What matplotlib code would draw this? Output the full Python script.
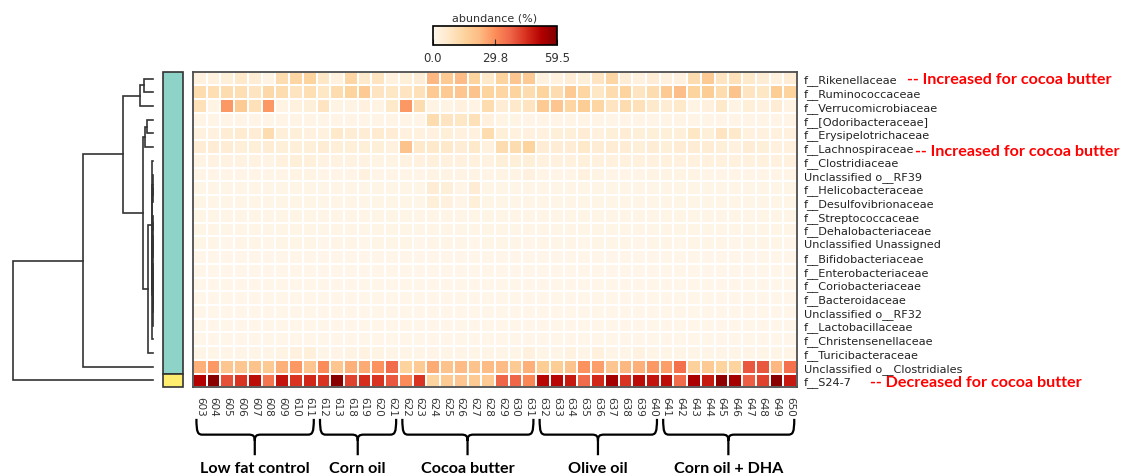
import numpy as np
import matplotlib
matplotlib.use('Agg')
import matplotlib.pyplot as plt
from matplotlib.path import Path
from matplotlib.patches import PathPatch, Rectangle

W, H = 1124, 477

# ---------------- data ----------------
families = ['f__Rikenellaceae', 'f__Ruminococcaceae', 'f__Verrucomicrobiaceae',
            'f__[Odoribacteraceae]', 'f__Erysipelotrichaceae', 'f__Lachnospiraceae',
            'f__Clostridiaceae', 'Unclassified o__RF39', 'f__Helicobacteraceae',
            'f__Desulfovibrionaceae', 'f__Streptococcaceae', 'f__Dehalobacteriaceae',
            'Unclassified Unassigned', 'f__Bifidobacteriaceae', 'f__Enterobacteriaceae',
            'f__Coriobacteriaceae', 'f__Bacteroidaceae', 'Unclassified o__RF32',
            'f__Lactobacillaceae', 'f__Christensenellaceae', 'f__Turicibacteraceae',
            'Unclassified o__Clostridiales', 'f__S24-7']

samples = ['603', '604', '605', '606', '607', '608', '609', '610', '611',
           '612', '613', '618', '619', '620', '621',
           '622', '623', '624', '625', '626', '627', '628', '629', '630', '631',
           '632', '633', '634', '635', '636', '637', '638', '639', '640',
           '641', '642', '643', '644', '645', '646', '647', '648', '649', '650']

groups = ['Low fat control', 'Corn oil', 'Cocoa butter', 'Olive oil', 'Corn oil + DHA']
group_sizes = [9, 6, 10, 9, 10]

row_cluster = [0] * 22 + [1]
row_cluster_colors = ['#8dd3c7', '#ffed6f']

rikenellaceae = [3, 3, 4, 7, 5, 2, 12, 14, 15, 8, 3,
                 14, 7, 9, 3, 4, 5, 23, 18, 22, 15, 7,
                 15, 19, 18, 3, 3, 5, 4, 9, 14, 5, 3,
                 5, 3, 3, 12, 18, 9, 10, 7, 5, 3, 5]
ruminococcaceae = [12, 11, 12, 11, 9, 13, 12, 9, 11, 8, 12,
                   15, 18, 9, 8, 9, 10, 18, 18, 19, 20, 15,
                   14, 15, 12, 15, 12, 18, 14, 8, 12, 15, 9,
                   12, 18, 21, 15, 17, 12, 20, 9, 8, 17, 15]
verrucomicrobiaceae = [10, 2, 28, 18, 10, 28, 2, 3, 4, 9, 2,
                       2, 3, 2, 7, 28, 12, 2, 2, 3, 2, 12,
                       5, 7, 9, 18, 19, 14, 17, 14, 9, 12, 10,
                       7, 5, 7, 2, 3, 7, 2, 4, 3, 5, 2]
odoribacteraceae = [1.5, 1.5, 1.5, 1.5, 1.5, 1.5, 1.5, 1.5, 1.5, 1.5, 1.5,
                    1.5, 1.5, 1.5, 1.5, 1.5, 1.5, 12, 9, 8, 10, 3,
                    2, 2, 1.5, 1.5, 1.5, 1.5, 1.5, 1.5, 1.5, 1.5, 1.5,
                    1.5, 1.5, 1.5, 1.5, 1.5, 1.5, 1.5, 1.5, 1.5, 1.5, 1.5]
erysipelotrichaceae = [3, 3, 5, 6, 5, 12, 4, 4, 3, 3, 7,
                       5, 5, 6, 5, 3, 3, 3, 4, 3, 3, 12,
                       4, 3, 3, 3, 4, 4, 5, 3, 4, 5, 4,
                       4, 4, 4, 8, 4, 9, 7, 3, 3, 3, 3]
lachnospiraceae = [5, 5, 5, 4, 4, 5, 4, 4, 4, 5, 4,
                   4, 4, 4, 3, 20, 7, 7, 7, 5, 7, 3,
                   12, 12, 15, 5, 5, 5, 7, 5, 5, 5, 4,
                   5, 4, 5, 5, 5, 4, 3, 5, 4, 3, 3]
clostridiaceae = [2, 2.5, 2.5, 2.5, 2.5, 2, 3, 4, 3.5, 2.5, 2.5,
                  2.5, 2.5, 2, 2, 2.5, 3, 3.5, 3, 3, 3, 2.5,
                  4, 4, 4, 3, 3, 3, 3.5, 3, 3, 3, 3,
                  3, 3, 3, 3, 3, 3, 3, 3, 3, 3, 3]
rf39 = [1.5, 1.5, 1.5, 1.5, 1.5, 1.5, 1.5, 2, 2, 1.5, 1.5,
        1.5, 3, 1.5, 1.5, 1.5, 1.5, 2, 2, 2, 2, 1.5,
        2, 2, 3, 1.5, 1.5, 1.5, 3, 2, 1.5, 1.5, 1.5,
        2, 2, 2, 2, 1.5, 1.5, 1.5, 1.5, 1.5, 1.5, 1.5]
helicobacteraceae = [1, 1, 1, 1, 1, 1, 1, 1, 1, 1, 1,
                     1, 1, 1, 1, 1, 1, 5, 4, 1.5, 5, 1,
                     1, 1, 1, 1, 1, 1, 1, 1, 1, 1, 1,
                     1, 1, 1, 1, 1, 1, 1, 1, 1, 1, 1]
desulfovibrionaceae = [1, 1, 1, 1, 1, 1, 1, 1, 1, 1, 1,
                       1, 1, 1, 1, 1, 1, 4, 3, 1.5, 4, 1,
                       1, 1, 1, 1, 1, 1, 1, 1, 1, 1, 1,
                       1, 1, 1, 1, 1, 1, 1, 1, 1, 1, 1]
streptococcaceae = [1.0, 1.2, 1.0, 1.0, 1.2, 1.0, 1.0, 1.2, 1.0, 1.0, 1.0,
                    1.0, 1.0, 1.2, 1.0, 1.0, 1.0, 1.0, 1.2, 1.0, 1.0, 1.0,
                    1.0, 1.2, 1.0, 1.0, 1.0, 1.0, 1.2, 1.0, 1.0, 1.0, 1.0,
                    1.2, 1.0, 1.0, 1.0, 1.2, 1.0, 1.0, 1.0, 1.2, 1.0, 1.0]
dehalobacteriaceae = [1.2, 1.0, 1.0, 1.2, 1.0, 1.0, 1.2, 1.0, 1.0, 1.2, 1.0,
                      1.0, 1.2, 1.0, 1.0, 1.0, 1.2, 1.0, 1.0, 1.2, 1.0, 1.0,
                      1.2, 1.0, 1.0, 1.0, 1.2, 1.0, 1.0, 1.0, 1.2, 1.0, 1.0,
                      1.0, 1.2, 1.0, 1.0, 1.0, 1.0, 1.2, 1.0, 1.0, 1.0, 1.2]
unassigned = [1.0, 1.0, 0.9, 1.0, 1.0, 0.9, 1.0, 1.0, 1.0, 0.9, 1.0,
              1.0, 0.9, 1.0, 1.0, 1.0, 0.9, 1.0, 1.0, 1.0, 0.9, 1.0,
              1.0, 1.0, 0.9, 1.0, 1.0, 1.0, 0.9, 1.0, 1.0, 1.0, 0.9,
              1.0, 1.0, 0.9, 1.0, 1.0, 1.0, 0.9, 1.0, 1.0, 1.0, 0.9]
bifidobacteriaceae = [0.8, 0.8, 0.9, 0.8, 0.8, 0.8, 0.9, 0.8, 0.8, 0.8, 0.8,
                      0.9, 0.8, 0.8, 0.8, 0.8, 0.8, 0.9, 0.8, 0.8, 0.8, 0.8,
                      0.8, 0.9, 0.8, 0.8, 0.8, 0.8, 0.8, 0.9, 0.8, 0.8, 0.8,
                      0.8, 0.8, 0.9, 0.8, 0.8, 0.8, 0.8, 0.9, 0.8, 0.8, 0.8]
enterobacteriaceae = [0.8, 0.9, 0.8, 0.8, 0.8, 0.9, 0.8, 0.8, 0.8, 0.8, 0.9,
                      0.8, 0.8, 0.8, 0.9, 0.8, 0.8, 0.8, 0.8, 0.9, 0.8, 0.8,
                      0.8, 0.8, 0.8, 0.9, 0.8, 0.8, 0.8, 0.8, 0.8, 0.9, 0.8,
                      0.8, 0.9, 0.8, 0.8, 0.8, 0.8, 0.9, 0.8, 0.8, 0.8, 0.8]
coriobacteriaceae = [0.8, 0.8, 0.8, 0.9, 0.8, 0.8, 0.8, 0.8, 0.9, 0.8, 0.8,
                     0.8, 0.8, 0.9, 0.8, 0.8, 0.8, 0.8, 0.9, 0.8, 0.8, 0.8,
                     0.9, 0.8, 0.8, 0.8, 0.8, 0.8, 0.9, 0.8, 0.8, 0.8, 0.8,
                     0.8, 0.8, 0.8, 0.9, 0.8, 0.8, 0.8, 0.8, 0.8, 0.9, 0.8]
bacteroidaceae = [0.8, 0.8, 0.8, 0.8, 0.9, 0.8, 0.8, 0.8, 0.8, 0.8, 0.9,
                  0.8, 0.8, 0.8, 0.8, 0.9, 0.8, 0.8, 0.8, 0.8, 0.9, 0.8,
                  0.8, 0.8, 0.8, 0.8, 0.9, 0.8, 0.8, 0.8, 0.8, 0.9, 0.8,
                  0.8, 0.8, 0.8, 0.8, 0.9, 0.8, 0.8, 0.8, 0.8, 0.8, 0.9]
rf32 = [0.8, 0.8, 0.9, 0.8, 0.8, 0.8, 0.8, 0.9, 0.8, 0.8, 0.8,
        0.8, 0.9, 0.8, 0.8, 0.8, 0.8, 0.9, 0.8, 0.8, 0.8, 0.8,
        0.8, 0.8, 0.9, 0.8, 0.8, 0.8, 0.8, 0.9, 0.8, 0.8, 0.8,
        0.9, 0.8, 0.8, 0.8, 0.8, 0.9, 0.8, 0.8, 0.8, 0.8, 0.8]
lactobacillaceae = [0.9, 0.8, 0.8, 0.8, 0.8, 0.9, 0.8, 0.8, 0.8, 0.8, 0.8,
                    0.9, 0.8, 0.8, 0.8, 0.8, 0.9, 0.8, 0.8, 0.8, 0.8, 0.9,
                    0.8, 0.8, 0.8, 0.8, 0.8, 0.9, 0.8, 0.8, 0.8, 0.8, 0.9,
                    0.8, 0.8, 0.8, 0.8, 0.9, 0.8, 0.8, 0.8, 0.9, 0.8, 0.8]
christensenellaceae = [0.8, 0.9, 0.8, 0.8, 0.8, 0.8, 0.9, 0.8, 0.8, 0.8, 0.8,
                       0.8, 0.8, 0.9, 0.8, 0.8, 0.8, 0.8, 0.8, 0.9, 0.8, 0.8,
                       0.8, 0.9, 0.8, 0.8, 0.8, 0.9, 0.8, 0.8, 0.8, 0.8, 0.8,
                       0.9, 0.8, 0.8, 0.8, 0.8, 0.8, 0.9, 0.8, 0.8, 0.8, 0.8]
turicibacteraceae = [1, 1, 1, 1, 1, 1, 2, 3, 3.5, 1, 1.5,
                     2, 2.5, 2, 1, 1, 1, 1.5, 1, 1, 1, 1,
                     1, 1, 3, 1, 1, 2.5, 1, 3, 1, 1, 2.5,
                     1, 1, 1, 1, 1, 1, 1, 1, 1, 1, 1]
unclassified_clostridiales = [24, 28, 19, 19, 20, 18, 24, 28, 19, 30, 19,
                              24, 25, 29, 36, 15, 18, 25, 20, 22, 20, 22,
                              22, 18, 24, 17, 17, 20, 29, 27, 19, 23, 24,
                              28, 27, 35, 16, 18, 15, 15, 39, 39, 23, 35]
s24_7 = [52, 58, 40, 44, 50, 34, 49, 44, 46, 44, 58,
         42, 45, 44, 39, 30, 44, 15, 18, 19, 18, 18,
         37, 37, 31, 51, 51, 48, 36, 46, 54, 44, 50,
         49, 50, 36, 53, 48, 57, 54, 38, 42, 58, 48]

vmin, vmax = 0.0, 59.5

# row dendrogram linkage: (child_a, child_b, height); leaves 0..22, new nodes 23..
linkage = [(0, 1, 9), (23, 2, 13), (3, 4, 6), (25, 5, 8.5),
           (8, 9, 0.3), (7, 27, 0.45), (10, 11, 0.15), (12, 13, 0.2), (29, 30, 0.3),
           (14, 15, 0.15), (16, 17, 0.2), (32, 33, 0.3), (31, 34, 0.4), (35, 18, 0.5),
           (28, 36, 0.7), (37, 19, 0.9), (6, 38, 1.4), (39, 20, 5.3), (26, 40, 9.7),
           (24, 41, 30), (42, 21, 70), (43, 22, 140)]

# ---------------- figure ----------------
matrix = np.array([rikenellaceae, ruminococcaceae, verrucomicrobiaceae, odoribacteraceae,
                   erysipelotrichaceae, lachnospiraceae, clostridiaceae, rf39,
                   helicobacteraceae, desulfovibrionaceae, streptococcaceae,
                   dehalobacteriaceae, unassigned, bifidobacteriaceae, enterobacteriaceae,
                   coriobacteriaceae, bacteroidaceae, rf32, lactobacillaceae,
                   christensenellaceae, turicibacteraceae, unclassified_clostridiales, s24_7],
                  dtype=float)
nrow, ncol = matrix.shape

fig = plt.figure(figsize=(W / 100, H / 100), dpi=100)
fig.patch.set_facecolor('white')

def px_axes(x0, y0, x1, y1):
    return fig.add_axes([x0 / W, 1 - y1 / H, (x1 - x0) / W, (y1 - y0) / H])

# heatmap
hm_top, hm_bot = 72.7, 388.3
ax = px_axes(193, hm_top, 797, hm_bot)
mesh = ax.pcolormesh(np.arange(ncol + 1), np.arange(nrow + 1), matrix, cmap='OrRd',
                     vmin=vmin, vmax=vmax, edgecolors='white', linewidth=1.3)
ax.set_xlim(0, ncol)
ax.set_ylim(nrow, 0)
for s in ax.spines.values():
    s.set_color('#4d4d4d')
    s.set_linewidth(1.3)
ax.yaxis.tick_right()
ax.set_yticks(np.arange(nrow) + 0.5)
ax.set_yticklabels(families, fontsize=8.1, color='#222222')
ax.set_xticks(np.arange(ncol) + 0.5)
ax.set_xticklabels(samples, rotation=-90, fontsize=7.5, color='#333333')
ax.tick_params(axis='y', length=0, pad=5)
ax.tick_params(axis='x', length=0, pad=6)

# braces and group labels
brace_top, brace_mid, brace_bot = 25.3, 26.45, 27.95
start = 0
for name, size in zip(groups, group_sizes):
    x0 = start + 0.25
    x1 = start + size - 0.2
    xm = start + size / 2.0
    r = 0.45
    verts = [(x0, brace_top), (x0, brace_mid - 0.15), (x0 + 0.1, brace_mid), (x0 + r, brace_mid),
             (xm - r, brace_mid),
             (xm - 0.1, brace_mid), (xm, brace_mid + 0.1), (xm, brace_mid + 0.45),
             (xm, brace_bot),
             (xm, brace_mid + 0.45),
             (xm, brace_mid + 0.1), (xm + 0.1, brace_mid), (xm + r, brace_mid),
             (x1 - r, brace_mid),
             (x1 - 0.1, brace_mid), (x1, brace_mid - 0.15), (x1, brace_top)]
    codes = [Path.MOVETO, Path.CURVE4, Path.CURVE4, Path.CURVE4,
             Path.LINETO,
             Path.CURVE4, Path.CURVE4, Path.CURVE4,
             Path.LINETO,
             Path.MOVETO,
             Path.CURVE4, Path.CURVE4, Path.CURVE4,
             Path.LINETO,
             Path.CURVE4, Path.CURVE4, Path.CURVE4]
    ax.add_patch(PathPatch(Path(verts, codes), facecolor='none', edgecolor='black',
                           lw=1.6, clip_on=False))
    ax.text(xm, 28.85, name, ha='center', va='center', fontsize=11.6,
            fontweight='bold', family='Lato', color='black', clip_on=False)
    start += size

# side colour bar
sax = px_axes(163.3, hm_top, 182.7, hm_bot)
sax.set_xlim(0, 1)
sax.set_ylim(nrow, 0)
sax.axis('off')
run_start = 0
for i in range(1, nrow + 1):
    if i == nrow or row_cluster[i] != row_cluster[run_start]:
        sax.add_patch(Rectangle((0, run_start), 1, i - run_start,
                                facecolor=row_cluster_colors[row_cluster[run_start]],
                                edgecolor='#333333', lw=1.2, clip_on=False))
        run_start = i

# dendrogram
dax = px_axes(5, hm_top, 160, hm_bot)
dax.set_xlim(148, -7)
dax.set_ylim(nrow, 0)
dax.axis('off')
pos = {i: (0.0, i + 0.5) for i in range(nrow)}
node = nrow
for a, b, h in linkage:
    ha_, ya = pos[a]
    hb_, yb = pos[b]
    dax.plot([ha_, h, h, hb_], [ya, ya, yb, yb], color='#333333', lw=1.2,
             solid_joinstyle='miter')
    pos[node] = (h, (ya + yb) / 2.0)
    node += 1

# colour bar
cax = px_axes(433, 27, 557, 46)
cb = fig.colorbar(mesh, cax=cax, orientation='horizontal', ticks=[vmin, (vmin + vmax) / 2, vmax])
cb.set_ticklabels(['%.1f' % vmin, '%.1f' % ((vmin + vmax) / 2), '%.1f' % vmax])
cb.ax.tick_params(direction='in', length=4, width=0.8, labelsize=8.5, pad=4,
                  labelcolor='#333333', color='#333333')
cb.outline.set_linewidth(1.2)
cb.outline.set_edgecolor('black')
cax.set_title('abundance (%)', fontsize=8, color='#333333', pad=4)

# red annotations
ann = dict(fontsize=11.6, fontweight='bold', family='Lato', color='#ff0000',
           va='center', ha='left')
fig.text(907 / W, 1 - 80 / H, '-- Increased for cocoa butter', **ann)
fig.text(915 / W, 1 - 152 / H, '-- Increased for cocoa butter', **ann)
fig.text(870 / W, 1 - 383 / H, '-- Decreased for cocoa butter', **ann)

fig.savefig('out.png', dpi=100)
